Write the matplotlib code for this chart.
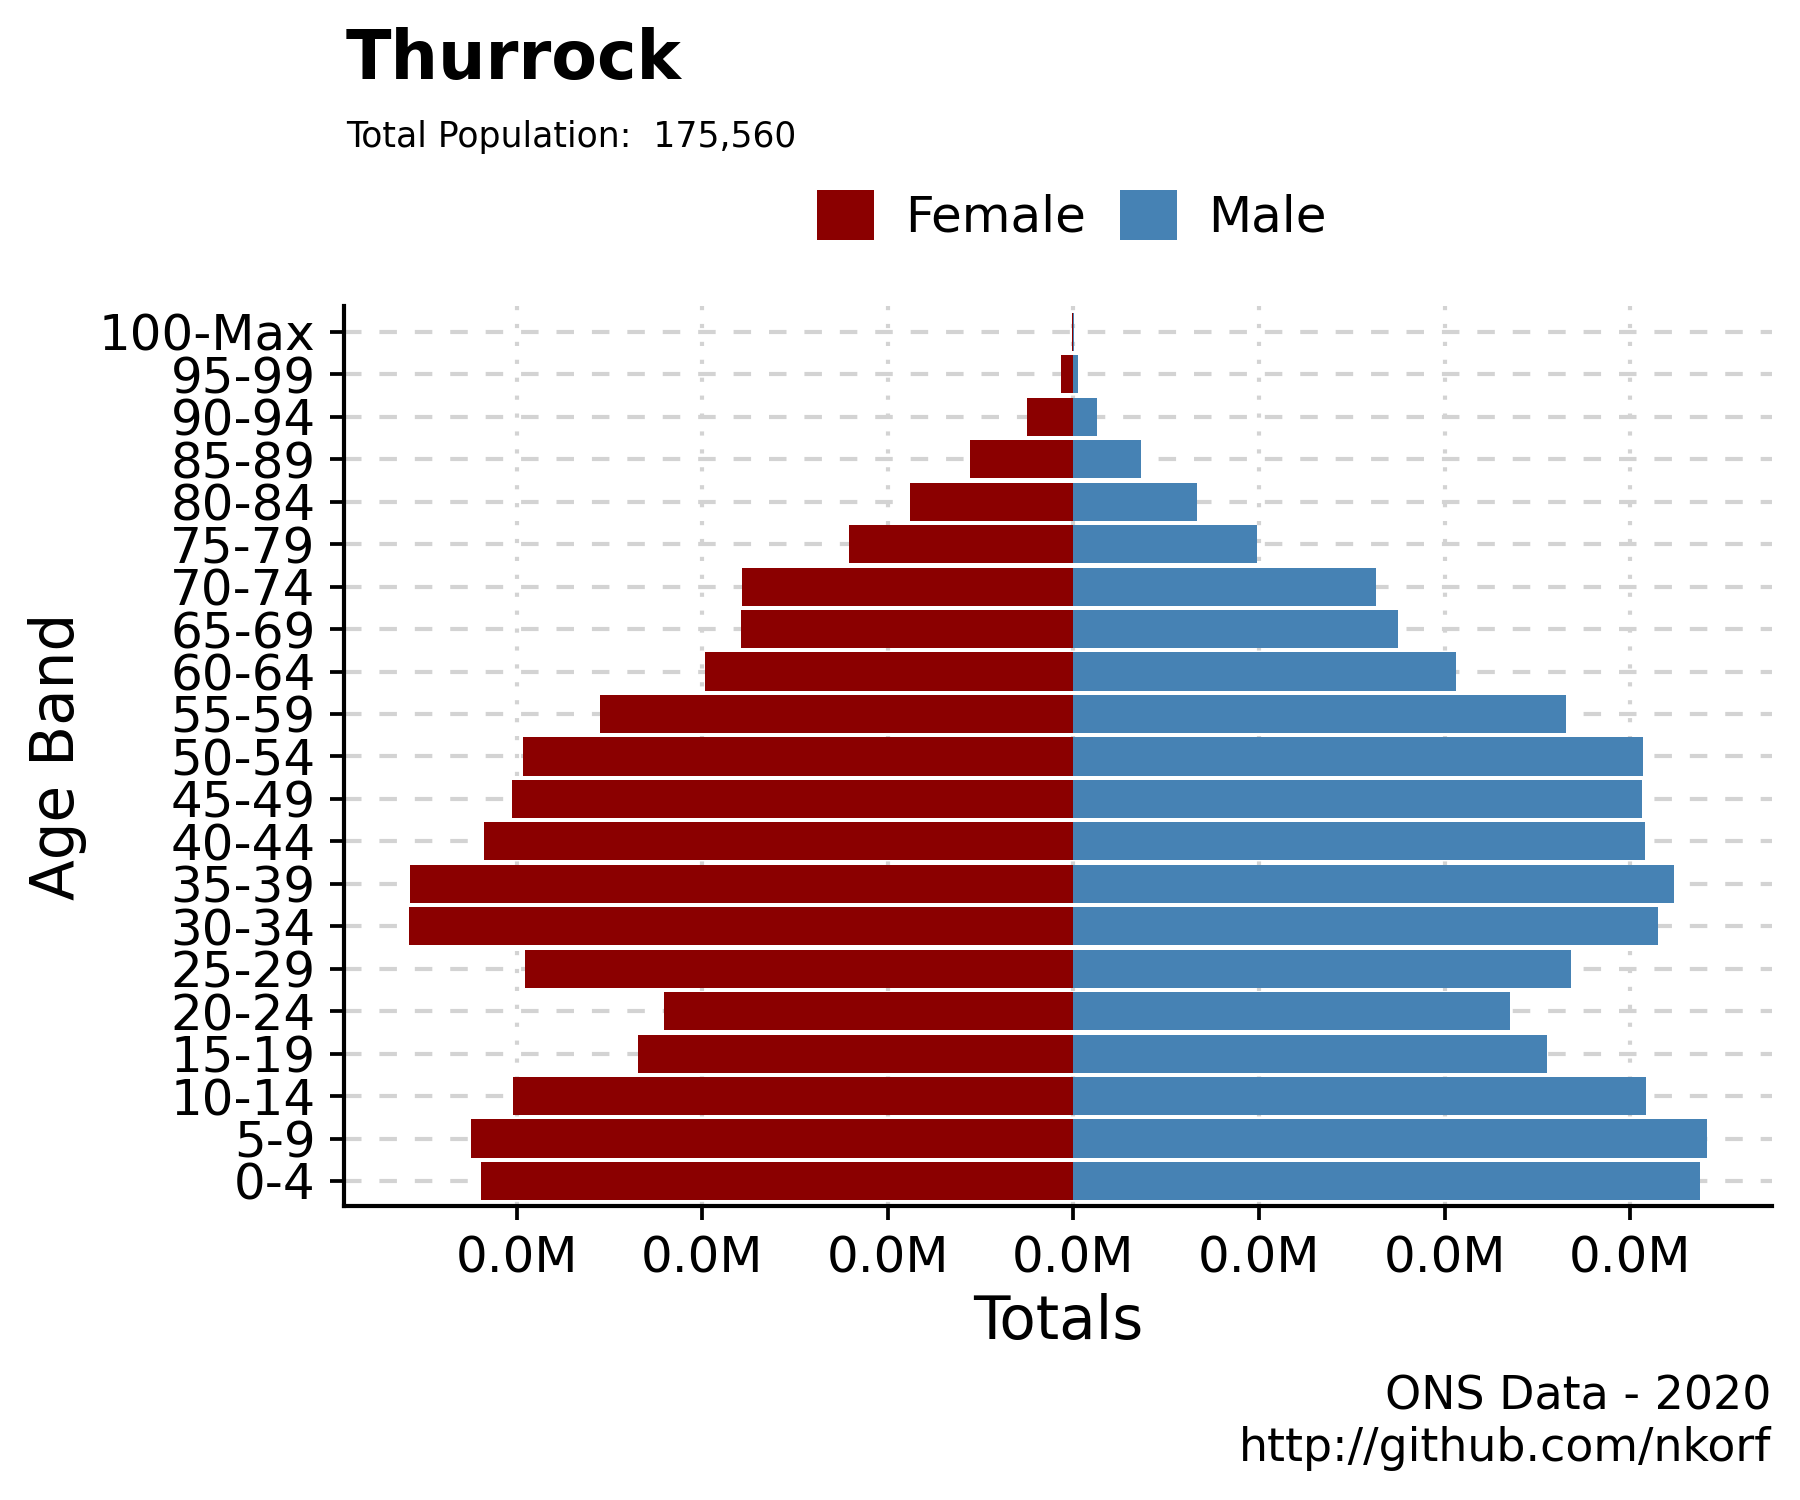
import numpy as np
import matplotlib
matplotlib.use("Agg")
import matplotlib.pyplot as plt
from matplotlib.patches import Patch
from matplotlib.ticker import FuncFormatter, FixedLocator

# ---- data ----
age_bands = ["0-4", "5-9", "10-14", "15-19", "20-24", "25-29", "30-34", "35-39",
             "40-44", "45-49", "50-54", "55-59", "60-64", "65-69", "70-74",
             "75-79", "80-84", "85-89", "90-94", "95-99", "100-Max"]
female = [6386, 6494, 6044, 4693, 4415, 5910, 7163, 7153, 6356, 6054, 5935,
          5104, 3970, 3584, 3574, 2421, 1762, 1114, 500, 134, 15]
male = [6757, 6831, 6173, 5103, 4707, 5366, 6301, 6475, 6163, 6128, 6139,
        5311, 4123, 3500, 3262, 1980, 1332, 728, 252, 50, 8]
x_ticks = [-6000, -4000, -2000, 0, 2000, 4000, 6000]
title = "Thurrock"
subtitle = "Total Population:  175,560"
caption_lines = ["ONS Data - 2020", "http://github.com/nkorf"]
female_color = "#8B0000"
male_color = "#4682B4"

plt.rcParams['font.family'] = ['DejaVu Sans']

fig = plt.figure(figsize=(6, 5), dpi=300)
ax = fig.add_axes([0.1911, 0.1957, 0.9845 - 0.1911, 0.7957 - 0.1957])

y = np.arange(len(age_bands))
f = np.array(female, dtype=float)
m = np.array(male, dtype=float)

ax.barh(y, -f, height=0.9, color=female_color, zorder=2, linewidth=0)
ax.barh(y, m, height=0.9, color=male_color, zorder=2, linewidth=0)

lo, hi = (-f).min(), m.max()
pad = 0.05 * (hi - lo)
ax.set_xlim(lo - pad, hi + pad)
ax.set_ylim(-0.6, len(age_bands) - 1 + 0.6)

ax.set_yticks(y)
ax.set_yticklabels(age_bands)
ax.xaxis.set_major_locator(FixedLocator(x_ticks))
ax.xaxis.set_major_formatter(FuncFormatter(lambda v, p: f"{abs(v)/1e6:.1f}M"))

# grid
ax.set_axisbelow(True)
ax.grid(axis='y', color='#d3d3d3', linewidth=1.0, linestyle=(0, (4.2, 4.3)), zorder=0)
ax.grid(axis='x', color='#d3d3d3', linewidth=1.0, linestyle=(0, (1.0, 3.3)), zorder=0)

for s in ['top', 'right']:
    ax.spines[s].set_visible(False)
for s in ['left', 'bottom']:
    ax.spines[s].set_linewidth(1.0)
    ax.spines[s].set_color('black')

ax.tick_params(axis='both', which='major', length=3.4, width=0.9, color='black',
               labelsize=12, labelcolor='black', pad=3.4)

ax.set_xlabel("Totals", fontsize=14.3)
ax.set_ylabel("Age Band", fontsize=14.3)
ax.xaxis.set_label_coords(0.5, -0.0966)
ax.yaxis.set_label_coords(-0.180, 0.5)

# title and subtitle
fig.text(346 / 1800, 1 - 79 / 1500, title, fontsize=16.0, fontweight='bold',
         ha='left', va='baseline')
fig.text(346 / 1800, 1 - 147 / 1500, subtitle, fontsize=8.3,
         ha='left', va='baseline')

# caption
fig.text(1771 / 1800, 1 - 1410 / 1500, caption_lines[0], fontsize=11.0,
         ha='right', va='baseline')
fig.text(1771 / 1800, 1 - 1461 / 1500, caption_lines[1], fontsize=11.0,
         ha='right', va='baseline')

# legend
handles = [Patch(facecolor=female_color, edgecolor='none', label='Female'),
           Patch(facecolor=male_color, edgecolor='none', label='Male')]
fig.legend(handles=handles, loc='center', bbox_to_anchor=(0.5955, 1 - 216 / 1500),
           ncol=2, frameon=False, fontsize=12, handlelength=1.14, handleheight=1.14,
           handletextpad=0.62, columnspacing=0.68, borderpad=0, borderaxespad=0)

fig.savefig("out.png", dpi=300)
